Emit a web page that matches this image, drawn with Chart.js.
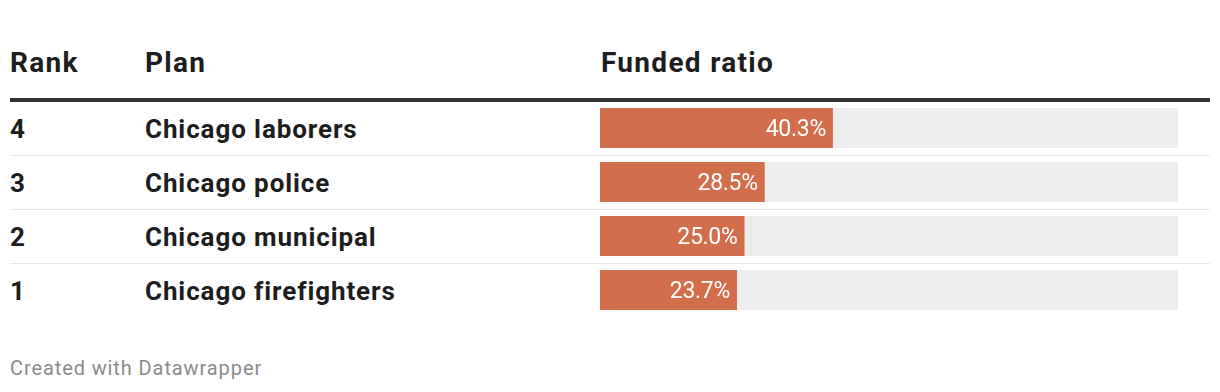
<!DOCTYPE html>
<html>
<head>
<meta charset="utf-8">
<script src="https://cdn.jsdelivr.net/npm/chart.js@4"></script>
<style>
  html, body { margin: 0; padding: 0; background: #fff; }
  body { width: 1220px; height: 392px; position: relative; overflow: hidden; font-family: Roboto, "Liberation Sans", sans-serif; color: #1d1d1d; }
  .t { position: absolute; white-space: nowrap; }
  .head { font-size: 28px; line-height: 28px; font-weight: 700; top: 49px; letter-spacing: 1.3px; }
  .cell { font-size: 26px; line-height: 26px; font-weight: 700; letter-spacing: 0.9px; }
  .rule { position: absolute; left: 10px; width: 1200px; }
  #foot { left: 10px; top: 358px; font-size: 20px; line-height: 20px; color: #8a8a8a; letter-spacing: 0.9px; }
  #wrap { position: absolute; left: 600px; top: 101px; width: 578px; height: 216px; }
</style>
</head>
<body>
<div class="t head" style="left:10px">Rank</div>
<div class="t head" style="left:145px">Plan</div>
<div class="t head" style="left:601px">Funded ratio</div>
<div class="rule" style="top:98px;height:4px;background:#333"></div>
<div id="rows"></div>
<div id="wrap"><canvas id="bars" width="578" height="216"></canvas></div>
<div class="t" id="foot">Created with Datawrapper</div>

<script>
// 表格数据
const ranks = ['4', '3', '2', '1'];
const plans = ['Chicago laborers', 'Chicago police', 'Chicago municipal', 'Chicago firefighters'];
const fundedRatio = [40.3, 28.5, 25.0, 23.7];
const maxRatio = 100;

// 行文字 + 分隔线
const rowsEl = document.getElementById('rows');
ranks.forEach((r, i) => {
    const top = 101 + i * 54;
    rowsEl.insertAdjacentHTML('beforeend',
        `<div class="t cell" style="left:10px;top:${top + 15}px">${r}</div>` +
        `<div class="t cell" style="left:145px;top:${top + 15}px">${plans[i]}</div>`);
    if (i < ranks.length - 1) {
        rowsEl.insertAdjacentHTML('beforeend',
            `<div class="rule" style="top:${top + 54}px;height:1px;background:#e6e6e6"></div>`);
    }
});

// 柱内数值标签
const valueLabels = {
    id: 'valueLabels',
    afterDatasetsDraw(chart) {
        const ctx = chart.ctx;
        const meta = chart.getDatasetMeta(0);
        ctx.save();
        ctx.font = '400 23px Roboto, sans-serif';
        ctx.letterSpacing = '-0.3px';
        ctx.fillStyle = '#fff';
        ctx.textAlign = 'right';
        ctx.textBaseline = 'alphabetic';
        meta.data.forEach((bar, i) => {
            ctx.fillText(fundedRatio[i].toFixed(1) + '%', bar.x - 7, bar.y + 8);
        });
        ctx.restore();
    }
};

new Chart(document.getElementById('bars'), {
    type: 'bar',
    data: {
        labels: plans,
        datasets: [{
            data: fundedRatio,
            backgroundColor: '#d36e4c',
            grouped: false,
            order: 0,
            barPercentage: 40 / 54,
            categoryPercentage: 1
        }, {
            data: plans.map(() => maxRatio),
            backgroundColor: '#ededed',
            grouped: false,
            order: 1,
            barPercentage: 40 / 54,
            categoryPercentage: 1
        }]
    },
    options: {
        indexAxis: 'y',
        responsive: false,
        animation: false,
        devicePixelRatio: 1,
        layout: { padding: 0 },
        plugins: {
            legend: { display: false },
            tooltip: { enabled: false }
        },
        scales: {
            x: { min: 0, max: maxRatio, display: false },
            y: { display: false }
        }
    },
    plugins: [valueLabels]
});
</script>
</body>
</html>
